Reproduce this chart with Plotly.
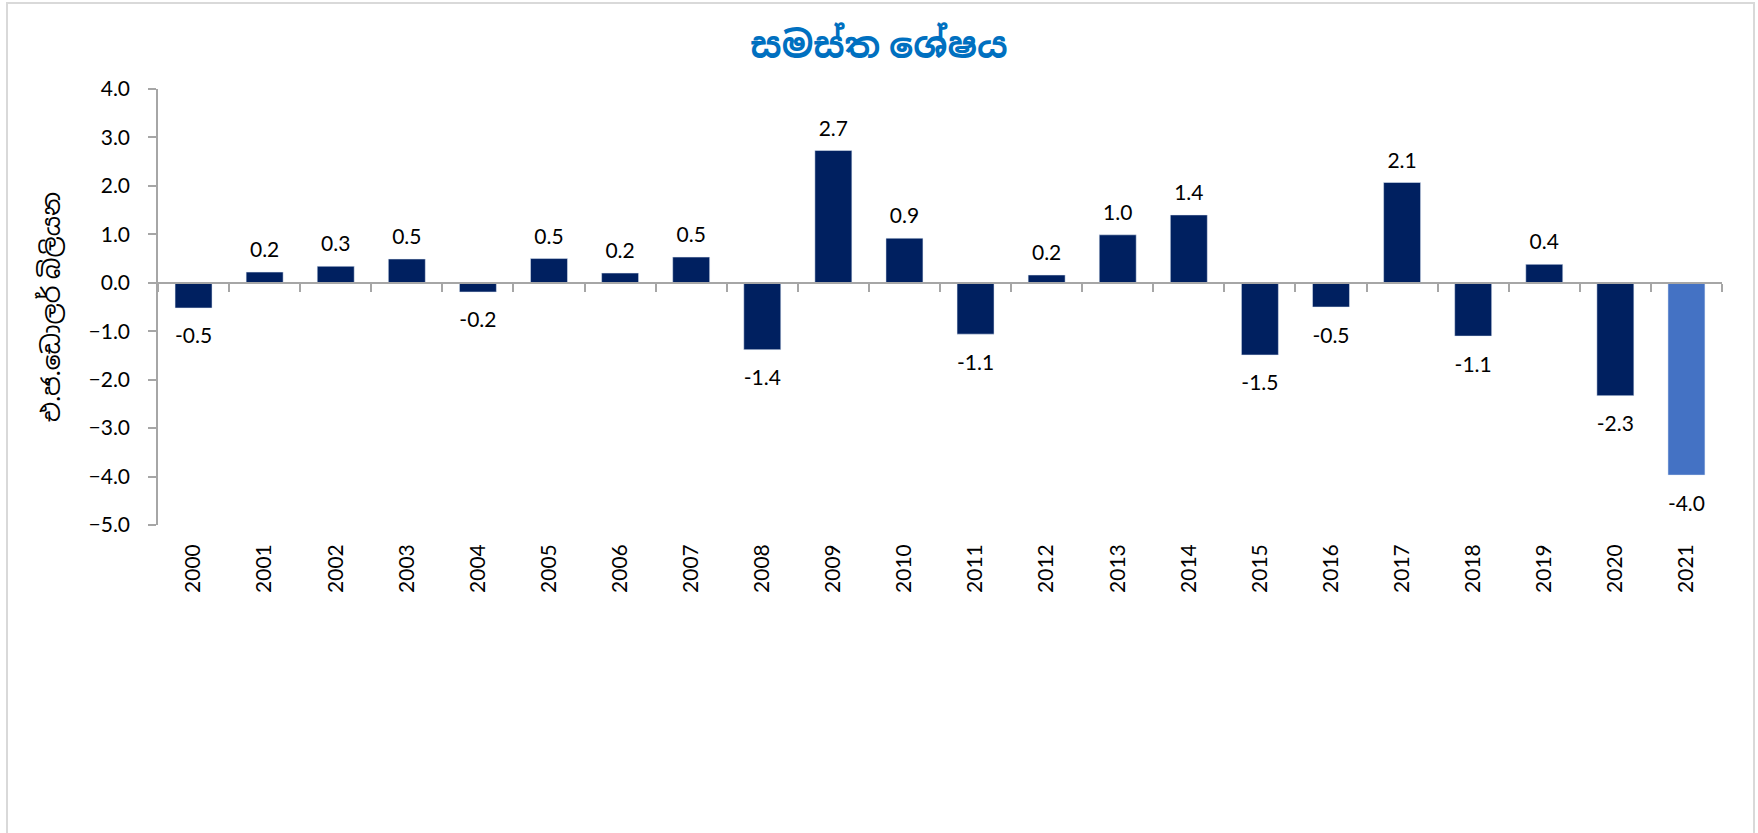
import plotly.graph_objects as go

# ---------------- data ----------------

years = [str(y) for y in range(2000, 2022)]
balance = [-0.52, 0.22, 0.34, 0.49, -0.19, 0.50, 0.20, 0.53, -1.38, 2.73, 0.92,
           -1.06, 0.16, 0.99, 1.40, -1.49, -0.50, 2.07, -1.10, 0.38, -2.33, -3.97]
y_ticks = [4, 3, 2, 1, 0, -1, -2, -3, -4, -5]

title_text = "සමස්ත ශේෂය"
y_title = "එ.ජ.ඩොලර් බිලියන"

# ---------------- style ----------------

W, H = 1758, 833
M_L, M_R, M_T, M_B = 158, 36, 89, 308
NAVY = "#002060"
LIGHT = "#4472C4"
AXIS = "#A6A6A6"
FONT = "Lato, 'Noto Sans', 'Noto Sans Sinhala', sans-serif"

colors = [NAVY] * (len(years) - 1) + [LIGHT]

fig = go.Figure()

fig.add_trace(go.Bar(
    x=years, y=balance,
    marker=dict(color=colors, line=dict(width=0)),
    hoverinfo="x+y",
))

# invisible copy on the axis that sits at zero (draws the tick marks there)
fig.add_trace(go.Bar(
    x=years, y=balance, xaxis="x2",
    marker=dict(color="rgba(0,0,0,0)"),
    hoverinfo="skip", showlegend=False,
))

# data labels: invisible markers keep the text away from the bar ends
fig.add_trace(go.Scatter(
    x=years, y=balance,
    mode="markers+text",
    text=[f"{v:.1f}" for v in balance],
    textposition=["top center" if v >= 0 else "bottom center" for v in balance],
    textfont=dict(size=21, color="#000000", family=FONT),
    marker=dict(size=[14 if v >= 0 else 30 for v in balance],
                color="rgba(0,0,0,0)", line=dict(width=0, color="rgba(0,0,0,0)")),
    cliponaxis=False,
    hoverinfo="skip", showlegend=False,
))

y_lo, y_hi = -5, 4
zero_pos = (0 - y_lo) / (y_hi - y_lo)

fig.update_layout(
    width=W, height=H,
    margin=dict(l=M_L, r=M_R, t=M_T, b=M_B, autoexpand=False),
    paper_bgcolor="white", plot_bgcolor="white",
    showlegend=False,
    bargap=0.48,
    font=dict(family=FONT, size=21, color="#000000"),
    title=dict(
        text="<b>" + title_text + "</b>",
        x=0.5, xref="container", xanchor="center",
        y=1 - 45 / H, yanchor="middle",
        font=dict(size=36, color="#0070C0", family=FONT),
    ),
    xaxis=dict(
        type="category", automargin=False,
        range=[-0.5, len(years) - 0.5],
        showline=False, showgrid=False, zeroline=False,
        ticks="", tickangle=-90,
        ticklabelstandoff=14,
        tickfont=dict(size=21, family=FONT),
    ),
    xaxis2=dict(
        type="category", overlaying="x", anchor="free", position=zero_pos,
        automargin=False,
        range=[-0.5, len(years) - 0.5],
        showline=True, linecolor=AXIS, linewidth=1.5,
        ticks="outside", tickson="boundaries", ticklen=8, tickcolor=AXIS, tickwidth=1.5,
        showticklabels=False, showgrid=False, zeroline=False,
    ),
    yaxis=dict(
        range=[y_lo, y_hi], automargin=False,
        tickvals=y_ticks, tickformat=".1f",
        showline=True, linecolor=AXIS, linewidth=1.5,
        ticks="outside", ticklen=8, tickcolor=AXIS, tickwidth=1.5,
        ticklabelstandoff=14,
        showgrid=False, zeroline=False,
        tickfont=dict(size=21, family=FONT),
        title=dict(text=y_title, standoff=21, font=dict(size=25, family=FONT)),
    ),
)

# light frame round the chart
pw = W - M_L - M_R
ph = H - M_T - M_B
fig.add_shape(
    type="rect", xref="paper", yref="paper",
    x0=(7 - M_L) / pw, x1=(1754 - M_L) / pw,
    y0=(H - M_B - 845) / ph, y1=(H - M_B - 3) / ph,
    line=dict(color="#D9D9D9", width=2), fillcolor="rgba(0,0,0,0)",
    layer="below",
)

# the page body has a default 8px margin; drop it so the chart sits at 0,0
fig.write_html("out.html", config={"displayModeBar": False},
               post_script="document.body.style.margin='0';")
